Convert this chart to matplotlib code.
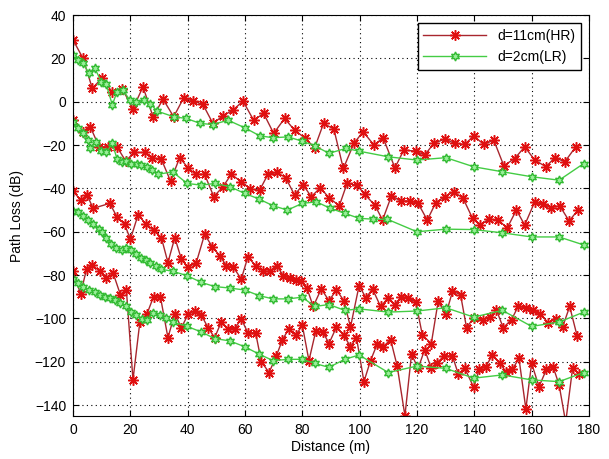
import matplotlib.pyplot as plt

plt.rcParams['font.family'] = ['Liberation Sans', 'DejaVu Sans']

# red series: d=11cm (HR)
r1_x = [0, 3.5, 6.7, 10.2, 13.7, 17.2, 20.9, 24.4, 27.9, 31.4, 35.1, 38.6, 41.9, 45.3, 48.8, 52.3,
        55.8, 59.3, 63, 66.5, 70, 73.8, 77.3, 80.8, 84.3, 87.4, 91, 94.3, 98, 101.2, 105, 108.2,
        112.3, 115.4, 119.6, 122.7, 125.9, 129.7, 133.2, 136.7, 139.8, 143.3, 146.8, 150.3, 154.1,
        157.6, 161.1, 165, 168.1, 171.6, 175.4]
r1_y = [28.5, 20, 6.2, 11.1, 4.3, 5.8, -3.1, 6.9, -6.9, 1.2, -6.9, 1.8, 0.3, -1.2, -10, -6.5,
        -3.8, 0.3, -8.5, -5.4, -14.6, -7.7, -13.1, -16.6, -21.2, -10, -12.6, -30.8, -19.2, -13.8, -20,
        -16.6, -30.5, -22.3, -22.8, -24.6, -19.2, -17.2, -19.2, -19.7, -15.7, -19.7, -17.7, -29.5,
        -26.2, -20.8, -26.9, -30, -25.8, -27.7, -20.8]

r2_x = [0, 3.3, 6, 9.1, 12.2, 15.3, 18.4, 21.2, 25, 27.7, 30.8, 34, 37.2, 40.1, 42.8, 45.9, 49.1,
        52.3, 55.2, 58.7, 61.9, 65.1, 68, 71.2, 74.2, 77.3, 80.2, 83.1, 86.3, 89.3, 92.9, 95.6, 99.1,
        101.8, 105.3, 108, 111.1, 114.3, 117.5, 120.4, 123.6, 126.6, 129.7, 132.9, 136.1, 139.4,
        141.9, 145.2, 148.3, 151.5, 154.7, 157.6, 161.1, 164, 166.9, 169.8, 173.1, 176.2]
r2_y = [-8.5, -13.8, -11.5, -20.8, -20.8, -20.8, -27.4, -23.4, -23.4, -25.8, -26.5, -36.6, -25.8,
        -30.5, -33.5, -33.5, -43.8, -39.2, -33.5, -36.9, -40.3, -40.8, -33.5, -32.6, -35.1, -43.1,
        -38.2, -43.8, -39.7, -44.3, -48, -37.7, -38.5, -42.8, -47.7, -54.6, -43.4, -45.8, -45.8, -46.9,
        -54.6, -46.5, -43.8, -41.5, -44.6, -53.8, -56.9, -54.2, -54.6, -58.2, -50, -56.9, -46.2, -47.4,
        -48.9, -48, -55, -50]

r3_x = [0, 2.6, 4.9, 7, 12.8, 15.3, 18, 20, 22.7, 25.3, 28.1, 30.8, 33.1, 35.5, 37.8, 40.1, 43,
        45.9, 48.6, 51.2, 53.5, 55.8, 58.7, 61, 63.7, 66.3, 68.6, 71.2, 73.3, 75.6, 77.9, 79.7, 81.6,
        83.8, 86.6, 89.3, 91.9, 94.5, 96.8, 99.8, 102.2, 104.5, 107.3, 110, 112.3, 114.6, 116.9,
        119.6, 121.9, 125, 127.4, 130.1, 132.4, 135.2, 137.3, 139.8, 142.9, 145.6, 147.7, 150.1, 153,
        155.3, 158, 160.5, 163.1, 165.8, 168.4, 170.8, 173.3, 175.9]
r3_y = [-41.2, -45.4, -43.1, -49.2, -46.9, -53.1, -56.6, -63.5, -52.1, -56.3, -59.4, -62.7, -74.2,
        -62.7, -72.7, -76.5, -74.2, -61.2, -67, -71.1, -75.7, -76.2, -81.8, -71.6, -75.7, -78.3, -78.3,
        -75.7, -80.3, -81.4, -82.3, -82.6, -86, -94.5, -86.4, -91.8, -86.9, -91.8, -104, -84.9, -90.5,
        -86.4, -94.5, -90.5, -93.6, -89.9, -90.5, -92.5, -107.8, -111.6, -92.1, -98.2, -87.5, -89,
        -104.3, -99.7, -100.6, -99.4, -96, -104.3, -100.6, -94.5, -95.1, -96.3, -97.9, -102.1, -100.2,
        -104, -94.5, -108.2]

r4_x = [0, 2.6, 4.7, 6.7, 9.3, 11.6, 14, 16.5, 18.6, 20.9, 23.3, 25.8, 28.1, 30.5, 33.1, 35.5,
        37.8, 40.1, 42.4, 44.8, 47.1, 49.4, 51.7, 54.1, 56.4, 58.7, 61, 63.7, 65.7, 68.4, 70.9, 73,
        75.3, 77.7, 80, 82.3, 84.7, 87.2, 89.3, 91.9, 94.5, 96.8, 98.9, 101.5, 103.8, 106.1, 108.2,
        110.8, 113.1, 115.8, 118.1, 120.4, 122.7, 125, 127, 129.4, 132.4, 134.4, 136.7, 139.8, 141.7,
        144, 146.3, 148.9, 151, 153.3, 155.6, 158, 160, 162.6, 165.2, 167.5, 169.6, 171.9, 174.3,
        176.6]
r4_y = [-78, -88.7, -77.3, -75.3, -78.3, -81.4, -79.2, -89, -86.9, -128.4, -101.7, -97.9, -89.9,
        -90.2, -108.9, -97.9, -104.3, -98.2, -96.6, -98.6, -104.3, -108.9, -101.7, -104.7, -104.7,
        -100.2, -106.7, -106.7, -120, -125, -117.4, -110.1, -104.7, -107.8, -103.2, -119.5, -105.8,
        -106.3, -111.6, -104, -107.8, -113.1, -108.9, -129.2, -119.5, -111.9, -113.1, -109.8, -122,
        -145, -116.5, -123.1, -114.4, -123.1, -120.5, -117.4, -117.4, -125.6, -123.1, -131.8, -123.5,
        -122.3, -117, -120.5, -124.6, -123.5, -118.5, -141.8, -120.8, -131.5, -123.5, -122.3, -130.7,
        -148, -123.1, -125.6]

# green series: d=2cm (LR)
g1_x = [0, 1.7, 3.5, 5.6, 7.6, 9.9, 11.6, 13.7, 15.3, 17.4, 19.8, 22.1, 24.7, 27, 29.3, 35.1, 39.5,
        44.4, 48.8, 54.1, 59.9, 65.1, 69.8, 75, 80, 84.3, 89.3, 95.2, 99.8, 110, 120, 130.1, 139.8,
        149.8, 160, 169.6, 178.2]
g1_y = [21.5, 19.2, 17.7, 13.1, 15.4, 9.2, 8, -1.5, 4.6, 5.4, 0.8, -0.3, 0.8, -0.8, -4.3, -6.9, -7.7,
        -10, -10.5, -8.5, -12, -15.7, -16.6, -16.2, -18.2, -20.3, -23.8, -21.5, -22.8, -25.4, -26.9,
        -25.8, -30, -32.3, -34.6, -36.2, -28.5]

g2_x = [0, 1.7, 3.5, 5.2, 6, 7.9, 9.9, 11.6, 13.7, 15.3, 16.9, 18.6, 20.3, 22.3, 23.8, 25.8, 27.7,
        29.7, 34.7, 39.8, 44.8, 49.4, 54.7, 59.9, 64.9, 69.8, 74.8, 80, 84.9, 89.8, 94.8, 99.8, 104.7,
        109.6, 120, 130.1, 139.8, 149.8, 160, 169.6, 178.2]
g2_y = [-9.5, -12.3, -14.6, -17.7, -21.5, -18.5, -22.8, -23.4, -19.2, -26.2, -28, -27.4, -28.5,
        -28.9, -29.2, -30, -31.5, -33.5, -32.3, -37.7, -38.5, -37.7, -39.2, -42.3, -44.9, -48, -50,
        -46.9, -46.2, -49.2, -51.5, -53.8, -54.2, -54.2, -60, -58.8, -59, -60.5, -62.4, -62.4, -66.1]

g3_x = [0, 1.7, 3.5, 5.2, 7, 9.1, 10.2, 11.6, 13.4, 15.1, 16.9, 18.6, 20.3, 22.1, 23.8, 25.3, 27,
        29.1, 30.8, 34.9, 39.8, 44.8, 49.4, 54.7, 59.9, 64.9, 69.8, 75, 80, 84.3, 89.3, 94.8, 99.8,
        110, 120, 130.1, 139.8, 149.8, 160, 169.6, 178.2]
g3_y = [-50.2, -50.8, -52.8, -54.8, -56.6, -58.9, -60, -63.1, -65.8, -67.3, -68.5, -67.6, -68.5,
        -70.1, -71.9, -73.1, -74.2, -75.7, -77.3, -78.3, -80.3, -83.4, -85.3, -86, -86.9, -89.5, -91,
        -91, -90.2, -94.5, -93.6, -96.3, -95.6, -97.1, -96.6, -95.1, -99.4, -96.3, -103.7, -101.7,
        -97.1]

g4_x = [0, 1.7, 3.5, 5.6, 7.6, 9.3, 11, 12.8, 14.5, 16.5, 18.6, 20.3, 22.1, 24.2, 25.8, 27.9, 30.2,
        32.3, 34.9, 39.8, 44.8, 49.4, 54.7, 59.9, 64.9, 69.8, 75, 80, 84.3, 89.3, 94.8, 99.8, 110,
        120, 130.1, 139.8, 149.8, 160, 169.6, 178.2]
g4_y = [-81.8, -83.8, -85.3, -86.9, -87.9, -89, -89.9, -90.5, -91.5, -93, -94.5, -97.1, -98.6,
        -100.2, -100.9, -97.6, -98.6, -99.7, -101.7, -103.7, -106.3, -109.3, -110.4, -113.1, -116.5,
        -119.5, -118.9, -118.9, -120.8, -122.6, -118.9, -116.9, -125, -122, -123.1, -127.6, -126.1,
        -128.4, -129.2, -125]

red_style = dict(color='#a8262e', lw=1.0, marker=(8, 2, 0), ms=7.5, mec='#e01010', mew=1.1)
green_style = dict(color='#44cc44', lw=1.0, marker=(6, 1, 0), ms=6.5, mfc='#99ee99', mec='#33bb33',
                   mew=1.0)

fig = plt.figure(figsize=(6.09, 4.59), dpi=100)
ax = fig.add_axes([0.12, 0.094, 0.847, 0.873])

ax.plot(r1_x, r1_y, label='d=11cm(HR)', **red_style)
ax.plot(g1_x, g1_y, label='d=2cm(LR)', **green_style)
ax.plot(r2_x, r2_y, **red_style)
ax.plot(g2_x, g2_y, **green_style)
ax.plot(r3_x, r3_y, **red_style)
ax.plot(g3_x, g3_y, **green_style)
ax.plot(r4_x, r4_y, **red_style)
ax.plot(g4_x, g4_y, **green_style)

ax.set_xlim(0, 180)
ax.set_ylim(-145, 40)
ax.set_xticks(range(0, 181, 20))
ax.set_yticks(range(-140, 41, 20))
ax.grid(True, color='black', linestyle=(0, (1, 3)), linewidth=0.8)
ax.tick_params(direction='in', labelsize=10, top=True, right=True, length=4, pad=5)
ax.set_xlabel('Distance (m)', fontsize=10, labelpad=2)
ax.set_ylabel('Path Loss (dB)', fontsize=10, labelpad=8)

leg = ax.legend(loc='upper right', fontsize=10, fancybox=False, framealpha=1,
                edgecolor='black', handlelength=4.5, borderaxespad=0.6, labelspacing=0.5)
leg.get_frame().set_linewidth(1.0)

fig.savefig('out.png', dpi=100)
